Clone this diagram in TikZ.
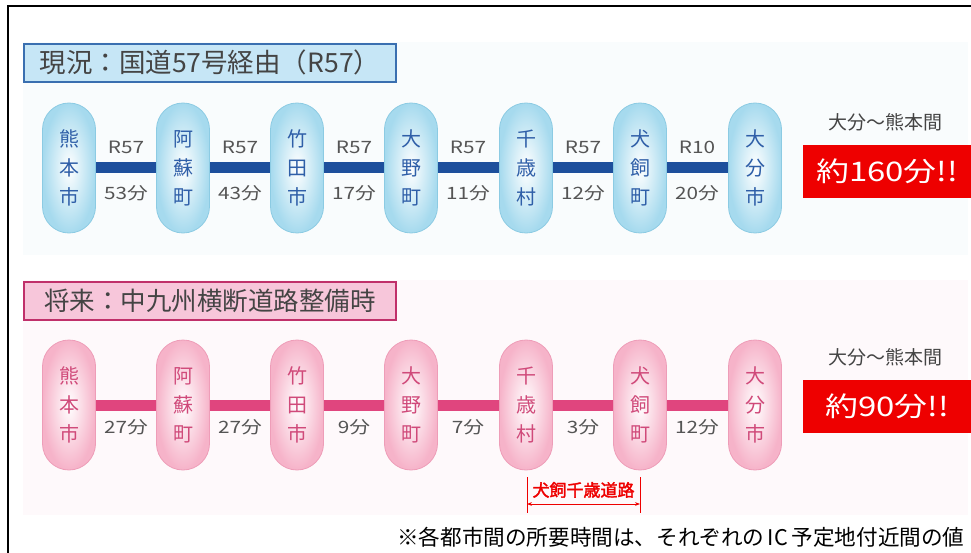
\documentclass[tikz,border=0pt]{standalone}
\usepackage{fontspec}
\setmainfont{Noto Sans CJK JP}
\newfontfamily\widefont[FakeStretch=1.22]{Noto Sans CJK JP}
\newfontfamily\heavyfont[FakeBold=2]{Noto Sans CJK JP}
\usetikzlibrary{arrows.meta}
\definecolor{bpillc}{HTML}{A6DAEE}
\definecolor{bpillb}{HTML}{8CCBE3}
\definecolor{btext}{HTML}{2F5FA8}
\definecolor{bbarc}{HTML}{1D4F9C}
\definecolor{ppillc}{HTML}{F6B3C9}
\definecolor{ppillb}{HTML}{EE9DB8}
\definecolor{ptext}{HTML}{D04A7A}
\definecolor{pbarc}{HTML}{E0457E}
\definecolor{lblc}{HTML}{555555}
\definecolor{redc}{HTML}{EE0000}
\definecolor{btitlefill}{HTML}{C6E6F6}
\definecolor{btitledraw}{HTML}{3A6FB0}
\definecolor{ptitlefill}{HTML}{F7C6DA}
\definecolor{ptitledraw}{HTML}{C0306A}
\definecolor{titletext}{HTML}{444444}
\definecolor{bgblue}{HTML}{F9FCFD}
\definecolor{bgpink}{HTML}{FEF9FB}
\pgfdeclarelayer{back}
\pgfdeclarelayer{bg}
\pgfsetlayers{back,bg,main}
\tikzset{
  pillbase/.style={rounded corners=26.5pt, minimum width=53pt, minimum height=130pt,
    inner sep=0pt, align=center, font=\fontsize{20}{29}\selectfont, line width=0.8pt},
  bpill/.style={pillbase, draw=bpillb, inner color=white, outer color=bpillc, text=btext},
  ppill/.style={pillbase, draw=ppillb, inner color=white, outer color=ppillc, text=ptext},
  bbar/.style={draw=bbarc, line width=11pt},
  pbar/.style={draw=pbarc, line width=11pt},
  lbl/.style={text=lblc, font=\widefont\fontsize{17}{17}\selectfont, inner sep=0pt},
  titlebox/.style={anchor=north west, minimum width=372pt, minimum height=38pt,
    inner sep=0pt, line width=1.8pt, text=titletext},
  redbox/.style={fill=redc, anchor=north west, minimum width=168pt, minimum height=53pt,
    inner sep=0pt, text=white, font=\widefont\fontsize{27}{27}\selectfont},
  captxt/.style={text=titletext, font=\fontsize{19}{19}\selectfont, inner sep=0pt},
}
\begin{document}
\begin{tikzpicture}[x=1pt,y=-1pt]
\useasboundingbox (0,0) rectangle (971,553);
% faint section backgrounds
\begin{pgfonlayer}{back}
\fill[bgblue] (23,42) rectangle (968,255);
\fill[bgpink] (23,280) rectangle (968,515);
\end{pgfonlayer}
% frame
\draw[line width=2.5pt] (8,553) -- (8,6) -- (971,6);
% titles
\node[titlebox, fill=btitlefill, draw=btitledraw, font=\fontsize{26.5}{26.5}\selectfont] (t1) at (23,43) {現況：国道57号経由（R57）};
\node[titlebox, fill=ptitlefill, draw=ptitledraw, font=\fontsize{25.5}{25.5}\selectfont] (t2) at (23,281) {将来：中九州横断道路整備時};
% row 1 pills
\node[bpill] (b1) at (69,168) {熊\\本\\市};
\node[bpill] (b2) at (183,168) {阿\\蘇\\町};
\node[bpill] (b3) at (297,168) {竹\\田\\市};
\node[bpill] (b4) at (411,168) {大\\野\\町};
\node[bpill] (b5) at (526,168) {千\\歳\\村};
\node[bpill] (b6) at (640,168) {犬\\飼\\町};
\node[bpill] (b7) at (755,168) {大\\分\\市};
\begin{pgfonlayer}{bg}
\foreach \a/\b in {b1/b2,b2/b3,b3/b4,b4/b5,b5/b6,b6/b7}{
  \draw[bbar] (\a.center) -- (\b.center);
}
\end{pgfonlayer}
% row 1 labels
\node[lbl] (r12) at (126,147) {R57};
\node[lbl] (m12) at (126,193) {53分};
\node[lbl] (r23) at (240,147) {R57};
\node[lbl] (m23) at (240,193) {43分};
\node[lbl] (r34) at (354,147) {R57};
\node[lbl] (m34) at (354,193) {17分};
\node[lbl] (r45) at (468,147) {R57};
\node[lbl] (m45) at (468,193) {11分};
\node[lbl] (r56) at (583,147) {R57};
\node[lbl] (m56) at (583,193) {12分};
\node[lbl] (r67) at (697,147) {R10};
\node[lbl] (m67) at (697,193) {20分};
\node[captxt] (c1) at (885,122) {大分～熊本間};
\node[redbox] (rb1) at (803,145) {約160分!!};
% row 2 pills
\node[ppill] (p1) at (69,405) {熊\\本\\市};
\node[ppill] (p2) at (183,405) {阿\\蘇\\町};
\node[ppill] (p3) at (297,405) {竹\\田\\市};
\node[ppill] (p4) at (411,405) {大\\野\\町};
\node[ppill] (p5) at (526,405) {千\\歳\\村};
\node[ppill] (p6) at (640,405) {犬\\飼\\町};
\node[ppill] (p7) at (755,405) {大\\分\\市};
\begin{pgfonlayer}{bg}
\foreach \a/\b in {p1/p2,p2/p3,p3/p4,p4/p5,p5/p6,p6/p7}{
  \draw[pbar] (\a.center) -- (\b.center);
}
\end{pgfonlayer}
\node[lbl] (n12) at (126,427) {27分};
\node[lbl] (n23) at (240,427) {27分};
\node[lbl] (n34) at (354,427) {9分};
\node[lbl] (n45) at (468,427) {7分};
\node[lbl] (n56) at (583,427) {3分};
\node[lbl] (n67) at (697,427) {12分};
\node[captxt] (c2) at (885,357) {大分～熊本間};
\node[redbox] (rb2) at (803,380) {約90分!!};
% bracket
\coordinate (k1) at (527,477);
\coordinate (k1b) at (527,513);
\coordinate (k2) at (640,477);
\coordinate (k2b) at (640,513);
\draw[redc, line width=0.9pt] (k1) -- (k1b);
\draw[redc, line width=0.9pt] (k2) -- (k2b);
\draw[redc, line width=0.9pt, {Stealth[length=5pt]}-{Stealth[length=5pt]}] (527,504) -- (640,504);
\node[text=redc, font=\heavyfont\fontsize{17}{17}\selectfont, inner sep=0pt] (kl) at (583.5,490) {犬飼千歳道路};
% footnote
\node[anchor=west, inner sep=0pt, font=\fontsize{21.6}{21.6}\selectfont] (fn) at (397,537) {※各都市間の所要時間は、それぞれの\,IC\,予定地付近間の値};
\end{tikzpicture}
\end{document}
